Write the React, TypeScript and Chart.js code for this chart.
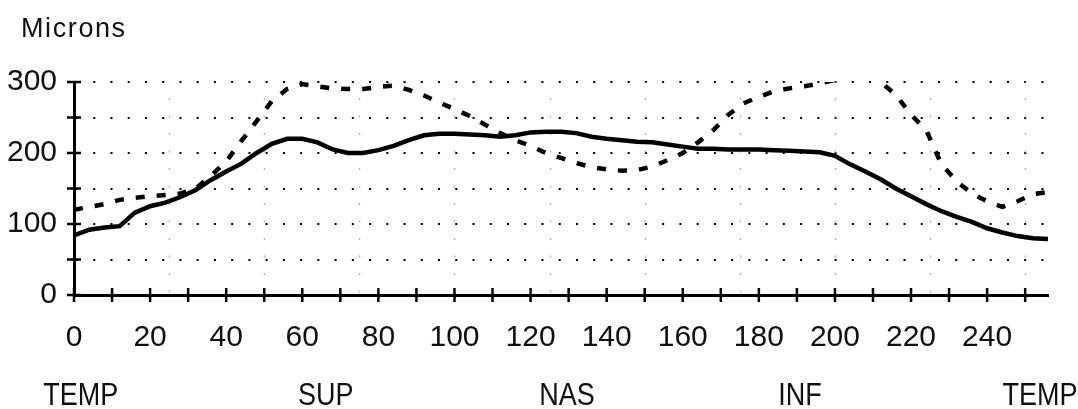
import { useEffect, useRef } from "react";
import { Chart, registerables } from "chart.js";

Chart.register(...registerables);

// Scan position along the circle (0–256) and retinal nerve fibre thickness in microns
const scanPositions = [
  0, 4, 8, 12, 16, 20, 24, 28, 32, 36, 40, 44, 48, 52, 56, 60, 64, 68, 72, 76, 80, 84, 88, 92, 96,
  100, 104, 108, 112, 116, 120, 124, 128, 132, 136, 140, 144, 148, 152, 156, 160, 164, 168, 172,
  176, 180, 184, 188, 192, 196, 200, 204, 208, 212, 216, 220, 224, 228, 232, 236, 240, 244, 248,
  252, 256,
];

const measuredThickness = [
  84, 92, 95, 97, 116, 125, 130, 138, 148, 162, 174, 185, 200, 213, 220, 220, 215, 205, 200, 200,
  204, 210, 218, 225, 227, 227, 226, 225, 223, 225, 229, 230, 230, 228, 223, 220, 218, 216, 215,
  212, 209, 206, 206, 205, 205, 205, 204, 203, 202, 201, 196, 184, 174, 163, 150, 139, 128, 118,
  110, 103, 94, 88, 83, 80, 79,
];

const comparisonThickness = [
  120, 124, 128, 134, 137, 139, 141, 143, 150, 168, 188, 217, 245, 273, 290, 297, 294, 291, 290,
  290, 293, 295, 289, 281, 271, 262, 252, 240, 228, 218, 210, 200, 193, 186, 180, 177, 175, 176,
  181, 190, 200, 215, 232, 254, 270, 279, 287, 291, 294, 298, 303, 306, 307, 300, 282, 254, 232,
  184, 160, 143, 132, 124, 132, 142, 145,
];

// Axis settings
const xMin = 0;
const xMax = 256;
const xTickStep = 10;
const xLabelStep = 20;
const xLastTick = 250;
const xGridStep = 25;
const yMin = 0;
const yMax = 300;
const yTickStep = 50;
const yLabelStep = 100;

const yTitle = "Microns";
const sectorLabels = ["TEMP", "SUP", "NAS", "INF", "TEMP"];
const sectorPositions = [1.8, 66.2, 129.6, 190.8, 253.9];

const FONT = "'Liberation Sans', Arial, Helvetica, sans-serif";
const INK = "#111";

const decorations = {
  id: "decorations",
  beforeDatasetsDraw(chart: any) {
    const { ctx, chartArea, scales } = chart;
    const x = scales.x;
    // light dotted vertical grid
    ctx.save();
    ctx.strokeStyle = "#b8b8b8";
    ctx.lineWidth = 1.5;
    ctx.setLineDash([2, 15.5]);
    ctx.lineDashOffset = 1.5;
    for (let v = xGridStep; v <= xMax; v += xGridStep) {
      const px = Math.round(x.getPixelForValue(v)) + 0.5;
      ctx.beginPath();
      ctx.moveTo(px, chartArea.top);
      ctx.lineTo(px, chartArea.bottom);
      ctx.stroke();
    }
    ctx.restore();
  },
  afterDraw(chart: any) {
    const { ctx, chartArea, scales } = chart;
    const x = scales.x;
    const y = scales.y;
    ctx.save();
    ctx.strokeStyle = "#000";
    ctx.lineWidth = 2.5;
    ctx.setLineDash([]);
    // tick marks crossing the x axis
    for (let v = xMin; v <= xLastTick; v += xTickStep) {
      const px = x.getPixelForValue(v);
      ctx.beginPath();
      ctx.moveTo(px, chartArea.bottom - 7);
      ctx.lineTo(px, chartArea.bottom + 7);
      ctx.stroke();
    }
    // tick marks crossing the y axis
    for (let v = yMin; v <= yMax; v += yTickStep) {
      const py = y.getPixelForValue(v);
      ctx.beginPath();
      ctx.moveTo(chartArea.left - 7, py);
      ctx.lineTo(chartArea.left + 7, py);
      ctx.stroke();
    }

    // axis title
    ctx.fillStyle = INK;
    ctx.font = `27px ${FONT}`;
    ctx.textAlign = "left";
    ctx.textBaseline = "alphabetic";
    (ctx as any).letterSpacing = "1.6px";
    ctx.fillText(yTitle, 21, 37);
    (ctx as any).letterSpacing = "0px";

    // sector names under the axis
    const stretch = 1.19;
    ctx.font = `27px ${FONT}`;
    ctx.textAlign = "center";
    sectorLabels.forEach((label, i) => {
      const px = x.getPixelForValue(sectorPositions[i]);
      ctx.save();
      ctx.scale(1, stretch);
      ctx.fillText(label, px, 405 / stretch);
      ctx.restore();
    });
    ctx.restore();
  },
};

export default function App() {
  const canvasRef = useRef<HTMLCanvasElement | null>(null);

  useEffect(() => {
    const canvas = canvasRef.current;
    if (!canvas) return;
    const chart = new Chart(canvas, {
      type: "line",
      data: {
        datasets: [
          {
            label: "Measured",
            data: scanPositions.map((p, i) => ({ x: p, y: measuredThickness[i] })),
            borderColor: "#000",
            borderWidth: 4.5,
            pointRadius: 0,
            tension: 0,
            fill: false,
            clip: 0,
          },
          {
            label: "Comparison",
            data: scanPositions.map((p, i) => ({ x: p, y: comparisonThickness[i] })),
            borderColor: "#000",
            borderWidth: 4.5,
            borderDash: [9, 12],
            pointRadius: 0,
            tension: 0,
            fill: false,
            clip: 0,
          },
        ],
      },
      options: {
        responsive: false,
        animation: false,
        devicePixelRatio: 1,
        layout: { padding: { left: 0, top: 82, right: 30, bottom: 0 } },
        plugins: {
          legend: { display: false },
          tooltip: { enabled: false },
        },
        scales: {
          x: {
            type: "linear",
            min: xMin,
            max: xMax,
            afterFit: (scale: any) => {
              scale.height = 114;
            },
            grid: { display: true, drawOnChartArea: false, drawTicks: false },
            border: { display: true, color: "#000", width: 3 },
            ticks: {
              stepSize: xTickStep,
              includeBounds: false,
              autoSkip: false,
              maxRotation: 0,
              padding: 25,
              color: INK,
              font: { family: FONT, size: 30 },
              callback: (v: any) => (Number(v) % xLabelStep === 0 && Number(v) <= xLastTick ? String(v) : ""),
            },
          },
          y: {
            type: "linear",
            min: yMin,
            max: yMax,
            afterFit: (scale: any) => {
              scale.width = 74;
            },
            grid: {
              display: true,
              color: "#000",
              lineWidth: 2,
              drawTicks: false,
            },
            // solid axis line; the dash applies to the horizontal grid lines
            border: { display: true, color: "#000", width: 3, dash: [2, 15.24] },
            ticks: {
              stepSize: yTickStep,
              autoSkip: false,
              padding: 17,
              color: INK,
              font: { family: FONT, size: 30 },
              callback: (v: any) => (Number(v) % yLabelStep === 0 ? String(v) : ""),
            },
          },
        },
      },
      plugins: [decorations],
    } as any);
    return () => chart.destroy();
  }, []);

  return (
    <div style={{ position: "absolute", left: 0, top: 0, width: 1078, height: 409, background: "#fff" }}>
      <canvas ref={canvasRef} width={1078} height={409} />
    </div>
  );
}
